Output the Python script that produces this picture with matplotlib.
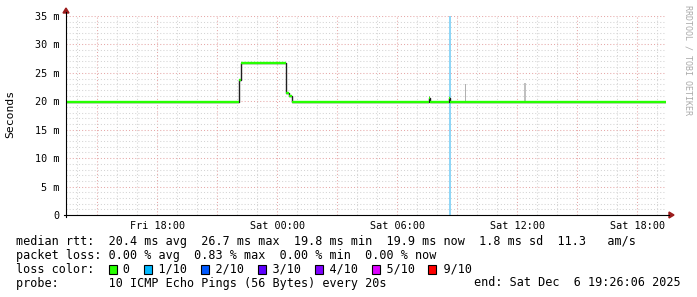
import matplotlib
matplotlib.use("Agg")
import matplotlib.pyplot as plt
import matplotlib.dates as mdates
from matplotlib.patches import Rectangle, Polygon
from matplotlib.lines import Line2D
from matplotlib.ticker import MultipleLocator, FuncFormatter
import pandas as pd

# time window of the graph
t_start = pd.Timestamp("2025-12-05 13:26:06")
t_end = pd.Timestamp("2025-12-06 19:26:06")

# median rtt in ms, as steps: start time of each step and its value
step_times = ["2025-12-05 13:26", "2025-12-05 22:05", "2025-12-05 22:12",
              "2025-12-06 00:26", "2025-12-06 00:35", "2025-12-06 00:44",
              "2025-12-06 07:36", "2025-12-06 07:39", "2025-12-06 08:36",
              "2025-12-06 08:39", "2025-12-06 19:26"]
step_ms = [19.9, 23.7, 26.7, 21.4, 20.9, 19.9, 20.6, 19.9, 20.6, 19.9, 19.9]

# smoke (spread of the pings), time / low / high in ms
smoke_times = ["2025-12-06 07:37", "2025-12-06 09:26", "2025-12-06 12:23"]
smoke_low = [20.0, 20.0, 20.0]
smoke_high = [21.0, 23.0, 23.3]
smoke_cols = ["#a0a0a0", "#b0b0b0", "#c0c0c0"]
smoke_width_min = [3, 3, 6]

# packet loss event (1/10)
loss_times = ["2025-12-06 08:37"]

legend_colors = ["#26ff00", "#00b8ff", "#0059ff", "#5e00ff", "#7e00ff", "#dd00ff", "#ff0000"]
legend_labels = ["0", "1/10", "2/10", "3/10", "4/10", "5/10", "9/10"]

W, H = 697, 297
def fx(px):
    return px / W
def fy(py):
    return 1 - py / H

fig = plt.figure(figsize=(W / 100, H / 100), dpi=100, facecolor="white")
x0, x1, y0, y1 = 66, 666, 16, 215
ax = fig.add_axes([fx(x0), fy(y1), (x1 - x0) / W, (y1 - y0) / H])
ax.set_facecolor("white")
for s in ax.spines.values():
    s.set_visible(False)

ax.set_xlim(t_start, t_end)
ax.set_ylim(0, 35)

# grid
ax.xaxis.set_major_locator(mdates.HourLocator(byhour=range(0, 24, 3)))
ax.xaxis.set_minor_locator(mdates.HourLocator())
ax.yaxis.set_major_locator(MultipleLocator(5))
ax.yaxis.set_minor_locator(MultipleLocator(1))
ax.grid(which="minor", color="#d4d4d4", linestyle=(0, (1, 2)), linewidth=0.75)
ax.grid(which="major", color="#e6a8a8", linestyle=(0, (1, 2)), linewidth=0.75)
ax.set_axisbelow(True)

def xfmt(v, pos):
    d = mdates.num2date(v)
    if d.hour % 6 == 0:
        return d.strftime("%a %H:%M")
    return ""
ax.xaxis.set_major_formatter(FuncFormatter(xfmt))
ax.yaxis.set_major_formatter(FuncFormatter(lambda v, p: "0" if v == 0 else "%d m" % v))
ax.tick_params(which="both", length=0)
ax.tick_params(axis="x", pad=4, labelsize=7.3, labelcolor="#000000")
ax.tick_params(axis="y", pad=4.5, labelsize=7.3, labelcolor="#000000")
for lab in ax.get_xticklabels() + ax.get_yticklabels():
    lab.set_family("DejaVu Sans Mono")

# loss marker
for t in loss_times:
    tt = pd.Timestamp(t)
    ax.axvspan(tt - pd.Timedelta(minutes=3), tt + pd.Timedelta(minutes=3),
               color="#8fd6f7", lw=0, zorder=2)

# smoke
for t, lo, hi, c, w in zip(smoke_times, smoke_low, smoke_high, smoke_cols, smoke_width_min):
    tt = pd.Timestamp(t)
    ax.fill_between([tt - pd.Timedelta(minutes=w / 2), tt + pd.Timedelta(minutes=w / 2)],
                    lo, hi, color=c, lw=0, zorder=2)

# median: black step line, green level segments on top
st = pd.to_datetime(step_times)
ax.step(st, step_ms, where="post", color="#202020", lw=1.0, zorder=3)
ax.hlines(step_ms[:-1], st[:-1], st[1:], color="#26ff00", lw=1.7, zorder=4)

# axes lines and arrows
fig.add_artist(Line2D([fx(x0 - 2), fx(669)], [fy(y1), fy(y1)], color="#000000", lw=0.8))
fig.add_artist(Line2D([fx(x0), fx(x0)], [fy(y1 + 2), fy(12)], color="#000000", lw=0.8))
fig.add_artist(Polygon([[fx(669), fy(212)], [fx(674), fy(215)], [fx(669), fy(218)]],
                       closed=True, color="#9b1c1c", transform=fig.transFigure))
fig.add_artist(Polygon([[fx(63), fy(13)], [fx(66), fy(8)], [fx(69), fy(13)]],
                       closed=True, color="#9b1c1c", transform=fig.transFigure))

fig.text(fx(10), fy(114), "Seconds", rotation=90, ha="center", va="center",
         family="DejaVu Sans Mono", size=8.2)
fig.text(fx(688), fy(5), "RRDTOOL / TOBI OETIKER", rotation=270, ha="center", va="top",
         family="DejaVu Sans Mono", size=6, color="#aaaaaa")

# legend text
mono = dict(family="DejaVu Sans Mono", size=8.5, va="center", ha="left")
cw = 7.1
lx = 16
fig.text(fx(lx), fy(241), "median rtt:  20.4 ms avg  26.7 ms max  19.8 ms min  19.9 ms now  1.8 ms sd  11.3   am/s", **mono)
fig.text(fx(lx), fy(255), "packet loss: 0.00 % avg  0.83 % max  0.00 % min  0.00 % now", **mono)
line3 = "loss color:  "
cols = []
for lab in legend_labels:
    cols.append(len(line3))
    line3 += "  " + lab + "  "
fig.text(fx(lx), fy(269), line3.rstrip(), **mono)
for c, col in zip(cols, legend_colors):
    fig.add_artist(Rectangle((fx(lx + c * cw + 0.5), fy(273.5)), 8 / W, 9 / H,
                             facecolor=col, edgecolor="#000000", lw=0.8,
                             transform=fig.transFigure))
fig.text(fx(lx), fy(283), "probe:       10 ICMP Echo Pings (56 Bytes) every 20s", **mono)
fig.text(fx(681), fy(283), "end: Sat Dec  6 19:26:06 2025", **dict(mono, ha="right"))

fig.savefig("out.png", dpi=100, facecolor="white")
